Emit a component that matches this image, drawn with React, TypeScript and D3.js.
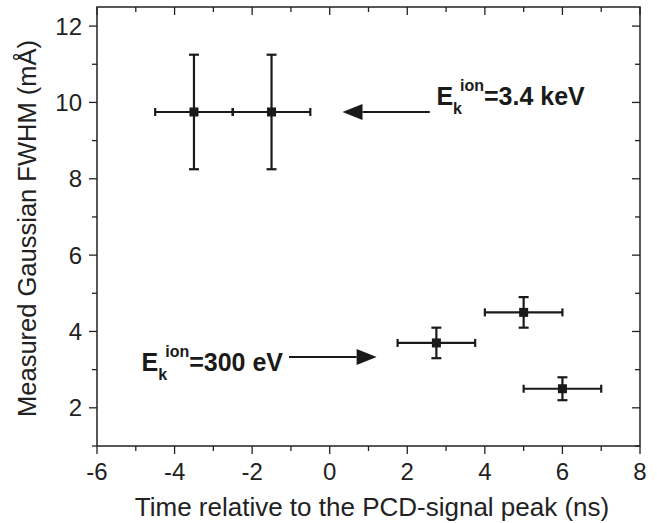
import React from "react";
import * as d3 from "d3";

const xValues = [-3.5, -1.5, 2.75, 5, 6];
const yValues = [9.75, 9.75, 3.7, 4.5, 2.5];
const xErrors = [1, 1, 1, 1, 1];
const yErrors = [1.5, 1.5, 0.4, 0.4, 0.3];
const xTicks = [-6, -4, -2, 0, 2, 4, 6, 8];
const yTicks = [2, 4, 6, 8, 10, 12];
const xMinor = d3.range(-6, 8.01, 1);
const yMinor = d3.range(1, 12.51, 1);
const xTitle = "Time relative to the PCD-signal peak (ns)";
const yTitle = "Measured Gaussian FWHM (mÅ)";

const W = 657;
const H = 523;
const L = 97, R = 640, T = 7, B = 446;
const FONT = "Liberation Sans, Arial, Helvetica, sans-serif";

export default function App() {
  const x = d3.scaleLinear().domain([-6, 8]).range([L, R]);
  const y = d3.scaleLinear().domain([1, 12.5]).range([B, T]);
  const axisColor = "#222";
  const markColor = "#1a1a1a";
  const cap = 4;
  const ms = 9;

  const arrow = (x1: number, x2: number, yy: number, key: string) => {
    const px1 = x(x1), px2 = x(x2), py = y(yy);
    const dir = Math.sign(px2 - px1);
    const headLen = 20;
    const headHalf = 8;
    const baseX = px2 - dir * headLen;
    return (
      <g key={key}>
        <line x1={px1} y1={py} x2={baseX} y2={py} stroke={markColor} strokeWidth={2} />
        <path d={`M${px2},${py} L${baseX},${py - headHalf} L${baseX},${py + headHalf} Z`} fill={markColor} />
      </g>
    );
  };

  const label = (xv: number, yv: number, value: string, key: string) => (
    <text key={key} x={x(xv)} y={y(yv)} fontFamily={FONT} fontWeight="bold" fontSize={25} fill={markColor}>
      E
      <tspan fontSize={16} dy={9}>k</tspan>
      <tspan fontSize={16} dy={-23} dx={-2}>ion</tspan>
      <tspan dy={14}>{value}</tspan>
    </text>
  );

  return (
    <svg width={W} height={H} style={{ position: "absolute", left: 0, top: 0, background: "#fff" }}>
      <rect x={L} y={T} width={R - L} height={B - T} fill="none" stroke={axisColor} strokeWidth={1.5} />
      {xMinor.map((v) => {
        const major = Math.round(v) % 2 === 0;
        const len = major ? 8 : 5;
        return (
          <g key={"xb" + v}>
            <line x1={x(v)} x2={x(v)} y1={B} y2={B + len} stroke={axisColor} strokeWidth={1.3} />
            <line x1={x(v)} x2={x(v)} y1={T} y2={T + len} stroke={axisColor} strokeWidth={1.3} />
          </g>
        );
      })}
      {yMinor.map((v) => {
        const major = Math.round(v) % 2 === 0;
        const len = major ? 8 : 5;
        return (
          <g key={"yl" + v}>
            <line x1={L - len} x2={L} y1={y(v)} y2={y(v)} stroke={axisColor} strokeWidth={1.3} />
            <line x1={R - len} x2={R} y1={y(v)} y2={y(v)} stroke={axisColor} strokeWidth={1.3} />
          </g>
        );
      })}
      {xTicks.map((v) => (
        <text key={"xl" + v} x={x(v)} y={B + 34} textAnchor="middle" fontFamily={FONT} fontSize={24} fill={axisColor}>
          {v}
        </text>
      ))}
      {yTicks.map((v) => (
        <text key={"ylab" + v} x={L - 15} y={y(v) + 8.5} textAnchor="end" fontFamily={FONT} fontSize={24} fill={axisColor}>
          {v}
        </text>
      ))}
      <text x={372} y={516} textAnchor="middle" fontFamily={FONT} fontSize={26} fill={axisColor}>
        {xTitle}
      </text>
      <text transform={`translate(36, ${(T + B) / 2 + 2}) rotate(-90)`} textAnchor="middle" fontFamily={FONT} fontSize={25.5} fill={axisColor}>
        {yTitle}
      </text>
      {xValues.map((xv, i) => {
        const yv = yValues[i];
        const xe = xErrors[i];
        const ye = yErrors[i];
        return (
          <g key={"pt" + i} stroke={markColor} strokeWidth={2.2}>
            <line x1={x(xv - xe)} x2={x(xv + xe)} y1={y(yv)} y2={y(yv)} />
            <line x1={x(xv - xe)} x2={x(xv - xe)} y1={y(yv) - cap} y2={y(yv) + cap} />
            <line x1={x(xv + xe)} x2={x(xv + xe)} y1={y(yv) - cap} y2={y(yv) + cap} />
            <line x1={x(xv)} x2={x(xv)} y1={y(yv + ye)} y2={y(yv - ye)} />
            <line x1={x(xv) - cap - 1} x2={x(xv) + cap + 1} y1={y(yv + ye)} y2={y(yv + ye)} />
            <line x1={x(xv) - cap - 1} x2={x(xv) + cap + 1} y1={y(yv - ye)} y2={y(yv - ye)} />
            <rect x={x(xv) - ms / 2} y={y(yv) - ms / 2} width={ms} height={ms} fill={markColor} stroke="none" />
          </g>
        );
      })}
      {arrow(2.58, 0.33, 9.75, "a1")}
      {arrow(-1.05, 1.21, 3.33, "a2")}
      {label(2.75, 9.94, "=3.4 keV", "l1")}
      {label(-4.85, 2.96, "=300 eV", "l2")}
    </svg>
  );
}
